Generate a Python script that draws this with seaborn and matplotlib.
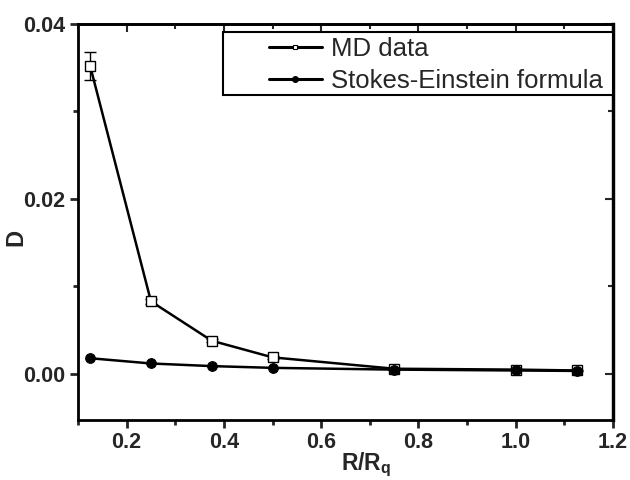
import matplotlib
matplotlib.use("Agg")
import matplotlib.pyplot as plt
import seaborn as sns
import pandas as pd
from matplotlib.ticker import MultipleLocator, FormatStrFormatter
from matplotlib.lines import Line2D
from matplotlib.patches import Rectangle

# Data
r_ratio = [0.125, 0.25, 0.375, 0.5, 0.75, 1.0, 1.125]
md_data = [0.0352, 0.0083, 0.0038, 0.0019, 0.0006, 0.0005, 0.0004]
md_err = [0.0016, 0.0003, 0.0002, 0.0002, 0.0001, 0.0001, 0.0001]
stokes = [0.0018, 0.0012, 0.0009, 0.0007, 0.0005, 0.0004, 0.00035]
series_names = ["MD data", "Stokes-Einstein formula"]

sns.set_style("ticks")
plt.rcParams['font.family'] = ['Liberation Sans', 'DejaVu Sans']
plt.rcParams['mathtext.fontset'] = 'custom'
plt.rcParams['mathtext.bf'] = 'Liberation Sans:bold'
plt.rcParams['mathtext.rm'] = 'Liberation Sans:bold'
plt.rcParams['mathtext.it'] = 'Liberation Sans:bold'

df = pd.DataFrame({
    "x": r_ratio * 2,
    "D": md_data + stokes,
    "series": [series_names[0]] * len(r_ratio) + [series_names[1]] * len(r_ratio),
})

fig = plt.figure(figsize=(6.3, 4.8), dpi=100)
ax = fig.add_axes([78 / 630, 60 / 480, 535 / 630, 396 / 480])

ax.errorbar(r_ratio, md_data, yerr=md_err, fmt='none', ecolor='black',
            elinewidth=1.0, capsize=4, capthick=1.0, zorder=1)

sns.lineplot(data=df, x="x", y="D", hue="series", style="series",
             markers={series_names[0]: 's', series_names[1]: 'o'},
             dashes=False, palette=['black', 'black'], ax=ax,
             linewidth=1.8, markersize=7, legend=False, zorder=3)

for ln in ax.get_lines():
    if ln.get_marker() == 's':
        ln.set_markerfacecolor('white')
        ln.set_markeredgecolor('black')
        ln.set_markeredgewidth(1.0)
        ln.set_markersize(6.5)
    elif ln.get_marker() == 'o':
        ln.set_markerfacecolor('black')
        ln.set_markeredgecolor('black')
        ln.set_markersize(7)

handles = [
    Line2D([], [], color='black', lw=2.2, marker='s', markerfacecolor='white',
           markeredgecolor='black', markersize=3.5, markeredgewidth=0.8),
    Line2D([], [], color='black', lw=2.2, marker='o', markerfacecolor='black',
           markersize=4),
]
leg = ax.legend(handles, series_names, loc='center left',
                bbox_to_anchor=((269 - 78) / 535, (420 - 65) / 396),
                borderaxespad=0, borderpad=0, frameon=False,
                fontsize=18.5, handlelength=2.05, handletextpad=0.38,
                labelspacing=0.3)
frame = Rectangle(((223 - 78) / 535, (420 - 95) / 396), (613 - 223) / 535,
                  (95 - 32) / 396, transform=ax.transAxes, fill=True,
                  facecolor='white', edgecolor='black', linewidth=1.5,
                  zorder=4, clip_on=False)
ax.add_patch(frame)
leg.set_zorder(5)

ax.set_xlim(0.1, 1.2)
ax.set_ylim(-0.00526, 0.04)
ax.xaxis.set_major_locator(MultipleLocator(0.2))
ax.xaxis.set_minor_locator(MultipleLocator(0.1))
ax.yaxis.set_major_locator(MultipleLocator(0.02))
ax.yaxis.set_minor_locator(MultipleLocator(0.01))
ax.xaxis.set_major_formatter(FormatStrFormatter('%.1f'))
ax.yaxis.set_major_formatter(FormatStrFormatter('%.2f'))

ax.tick_params(which='major', direction='out', length=6, width=2,
               labelsize=15.5, pad=3)
ax.tick_params(which='minor', direction='out', length=3.5, width=2)
for lab in ax.get_xticklabels() + ax.get_yticklabels():
    lab.set_fontweight('bold')

for s in ax.spines.values():
    s.set_visible(True)
    s.set_linewidth(2)
    s.set_color('black')

secx = ax.secondary_xaxis('top')
secx.xaxis.set_major_locator(MultipleLocator(0.2))
secx.xaxis.set_minor_locator(MultipleLocator(0.1))
secx.tick_params(which='major', direction='in', length=6, width=1.5, labeltop=False)
secx.tick_params(which='minor', direction='in', length=3.5, width=1.5)
secx.spines['top'].set_linewidth(2)
secy = ax.secondary_yaxis('right')
secy.yaxis.set_major_locator(MultipleLocator(0.02))
secy.yaxis.set_minor_locator(MultipleLocator(0.01))
secy.tick_params(which='major', direction='in', length=6, width=1.5, labelright=False)
secy.tick_params(which='minor', direction='in', length=3.5, width=1.5)
secy.spines['right'].set_linewidth(2.5)

ax.set_xlabel(r'R/R$_\mathbf{q}$', fontsize=16.5, fontweight='bold')
ax.set_ylabel('D', fontsize=17, fontweight='bold')
ax.xaxis.set_label_coords((366 - 78) / 535, (420 - 451) / 396)
ax.yaxis.set_label_coords((27 - 78) / 535, (420 - 237) / 396)

fig.savefig('out.png', dpi=100)
